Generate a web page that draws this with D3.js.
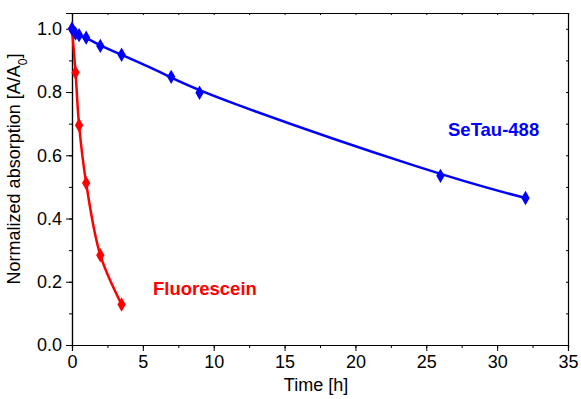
<!DOCTYPE html>
<html>
<head>
<meta charset="utf-8">
<script src="https://cdn.jsdelivr.net/npm/d3@7"></script>
<style>
  body { margin: 0; background: #fff; }
  text { font-family: "Liberation Sans", Arial, sans-serif; }
</style>
</head>
<body>
<div class="chart"></div>
<script>
// data
const setauTime = [0, 0.25, 0.5, 1, 2, 3.5, 7, 9, 26, 32]
const setauValue = [1.0, 0.985, 0.98, 0.972, 0.946, 0.918, 0.848, 0.798, 0.535, 0.465]
const fluoTime = [0, 0.25, 0.5, 1, 2, 3.5]
const fluoValue = [1.0, 0.862, 0.695, 0.512, 0.284, 0.128]
const xTicks = [0, 5, 10, 15, 20, 25, 30, 35]
const yTicks = [0.0, 0.2, 0.4, 0.6, 0.8, 1.0]

var margin = {top: 13, right: 13, bottom: 54, left: 72},
  width = 581 - margin.left - margin.right,
  height = 399 - margin.top - margin.bottom;

var svg = d3.select(".chart")
  .append("svg")
  .attr("width", 581)
  .attr("height", 399)
  .append("g")
  .attr("transform", "translate(" + margin.left + "," + margin.top + ")");

var x = d3.scaleLinear().domain([0, 35]).range([0, width])
var y = d3.scaleLinear().domain([0, 1.05]).range([height, 0])

var xMinor = d3.range(0, 35.01, 2.5)
var yMinor = d3.range(0, 1.001, 0.1)

// bottom axis: major + minor ticks outward
svg.append("g")
  .attr("transform", "translate(0," + height + ")")
  .call(d3.axisBottom(x).tickValues(xMinor).tickSize(3).tickFormat(""))
svg.append("g")
  .attr("transform", "translate(0," + height + ")")
  .call(d3.axisBottom(x).tickValues(xTicks).tickSize(6).tickPadding(4).tickFormat(d3.format("d")))
// left axis
svg.append("g")
  .call(d3.axisLeft(y).tickValues(yMinor).tickSize(3).tickFormat(""))
svg.append("g")
  .call(d3.axisLeft(y).tickValues(yTicks).tickSize(6).tickPadding(4).tickFormat(d3.format(".1f")))
// top and right: small inward ticks
svg.append("g")
  .call(d3.axisTop(x).tickValues(xMinor).tickSize(-2).tickFormat(""))
svg.append("g")
  .attr("transform", "translate(" + width + ",0)")
  .call(d3.axisRight(y).tickValues(yMinor).tickSize(-2).tickFormat(""))

svg.selectAll(".domain").attr("stroke", "#000").attr("stroke-width", 1.2)
svg.selectAll(".tick line").attr("stroke", "#000")
svg.selectAll(".tick text").style("font-size", "18px").attr("fill", "#000")

// axis titles
svg.append("text")
  .attr("x", width / 2 - 4)
  .attr("y", height + 46)
  .attr("text-anchor", "middle")
  .style("font-size", "18px")
  .text("Time [h]")

var yTitle = svg.append("text")
  .attr("transform", "translate(-52," + (height / 2 - 10) + ") rotate(-90)")
  .attr("text-anchor", "middle")
  .style("font-size", "18px")
yTitle.append("tspan").text("Normalized absorption [A/A")
yTitle.append("tspan").attr("baseline-shift", "sub").style("font-size", "12px").text("0")
yTitle.append("tspan").text("]")

function drawSeries(times, values, color, curve) {
  var pts = times.map((t, i) => ({t: t, v: values[i]}))
  var line = d3.line()
    .x(d => x(d.t))
    .y(d => y(d.v))
    .curve(curve)
  svg.append("path")
    .datum(pts)
    .attr("fill", "none")
    .attr("stroke", color)
    .attr("stroke-width", 2.5)
    .attr("d", line)
  svg.selectAll(null)
    .data(pts)
    .enter()
    .append("path")
      .attr("transform", d => "translate(" + x(d.t) + "," + y(d.v) + ")")
      .attr("d", d3.symbol(d3.symbolDiamond, 60))
      .attr("fill", color)
}

drawSeries(fluoTime, fluoValue, "#ff0000", d3.curveCatmullRom.alpha(0.5))
drawSeries(setauTime, setauValue, "#0000ff", d3.curveBasis)

svg.append("text")
  .attr("x", 376)
  .attr("y", 123)
  .attr("fill", "#0000ff")
  .style("font-size", "18.5px")
  .style("font-weight", "bold")
  .text("SeTau-488")

svg.append("text")
  .attr("x", 81)
  .attr("y", 282)
  .attr("fill", "#ff0000")
  .style("font-size", "18.5px")
  .style("font-weight", "bold")
  .text("Fluorescein")
</script>
</body>
</html>
